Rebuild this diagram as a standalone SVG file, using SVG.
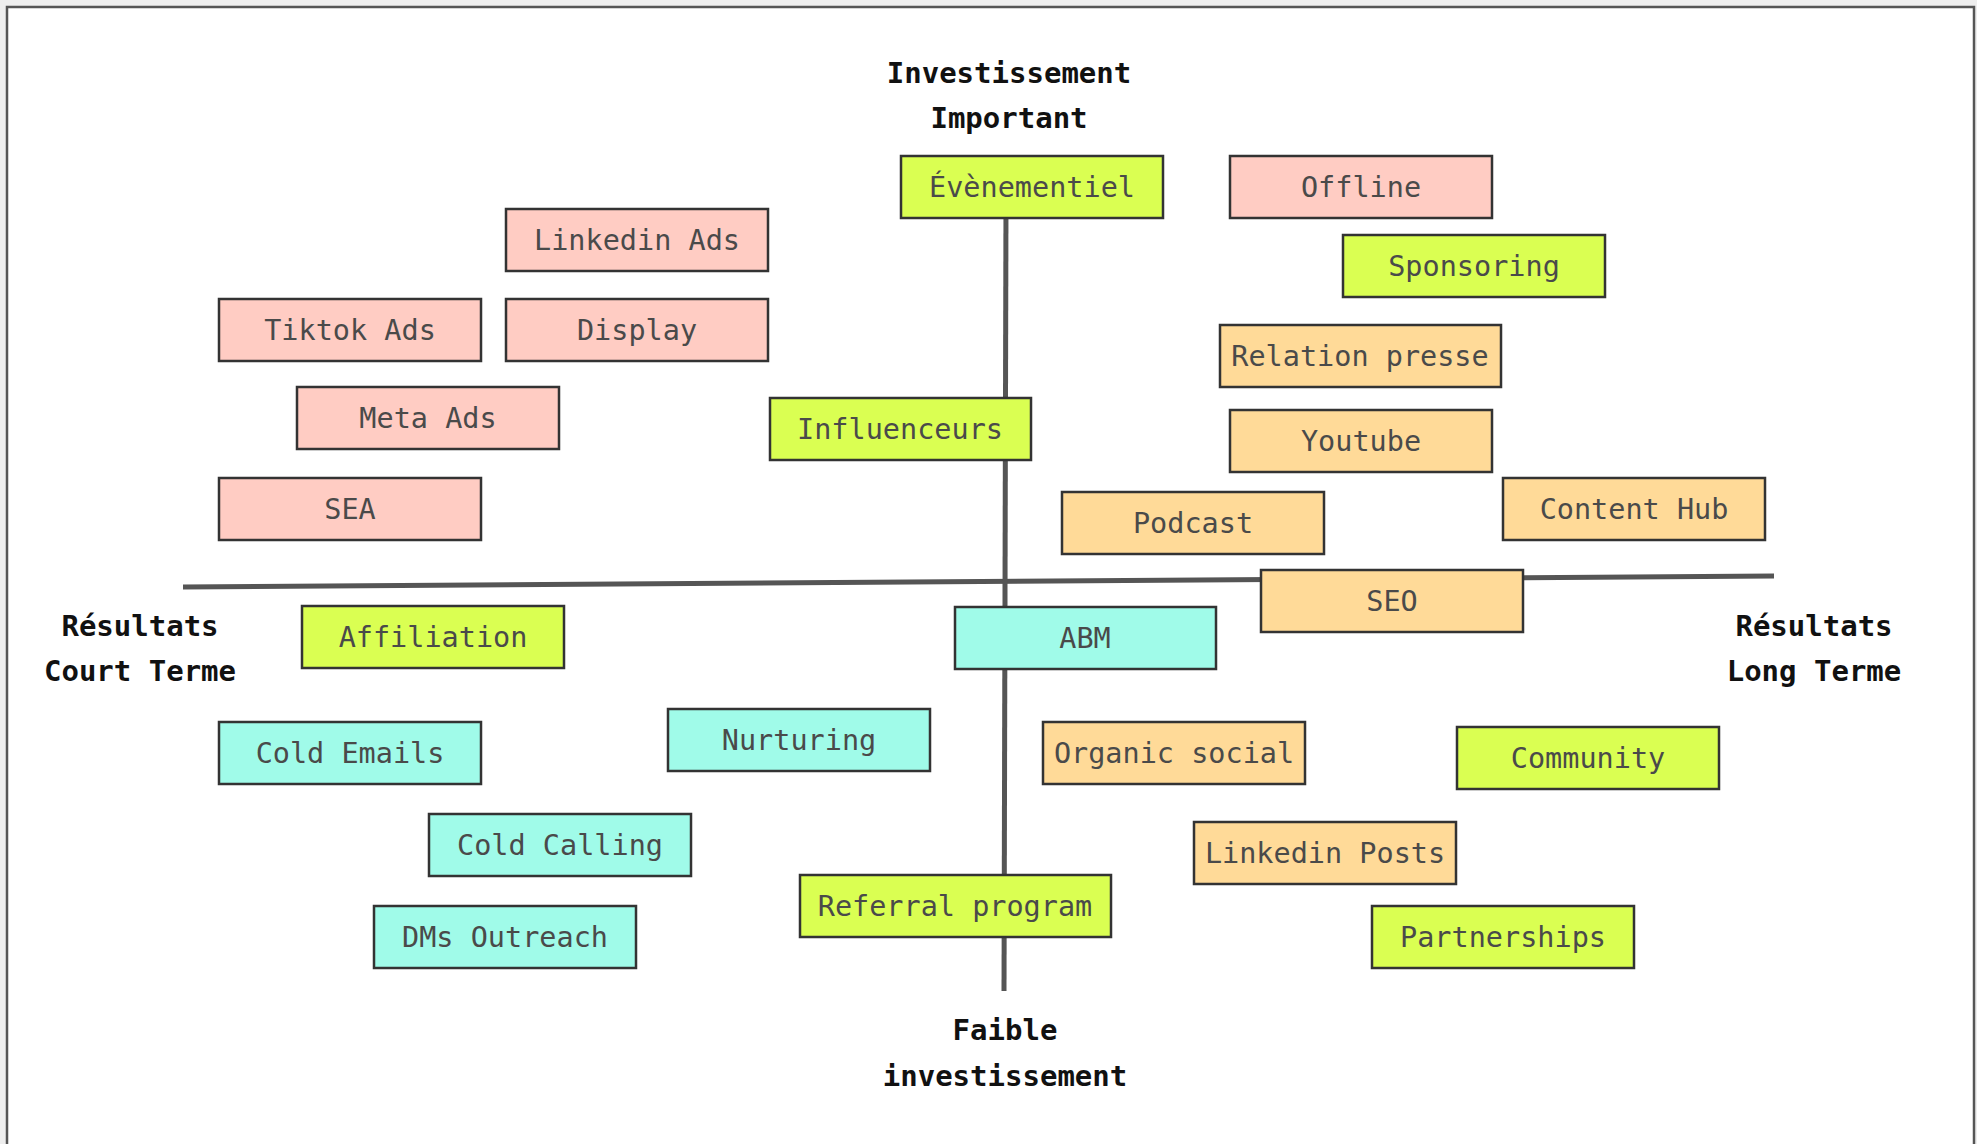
<svg xmlns="http://www.w3.org/2000/svg" width="1977" height="1144" viewBox="0 0 1977 1144">
<style>
.bx{stroke:#333;stroke-width:2.5}
.pink{fill:#FFCCC3}
.lime{fill:#DAFF52}
.cyan{fill:#A0FBE9}
.orng{fill:#FFDA98}
.t{font-family:"DejaVu Sans Mono","Liberation Mono",monospace;font-size:28.5px;fill:#4a4a4a;text-anchor:middle}
.lb{font-family:"DejaVu Sans Mono","Liberation Mono",monospace;font-size:29px;font-weight:bold;fill:#111;text-anchor:middle}
.ax{stroke:#555;stroke-width:5;fill:none}
</style>
<rect x="0" y="0" width="1977" height="1144" fill="#eeeeee"/>
<rect x="7" y="7" width="1967" height="1140" fill="#ffffff" stroke="#555" stroke-width="2.5"/>
<g id="connectors">
<line class="ax" x1="183" y1="587" x2="1774" y2="576"/>
<line class="ax" x1="1006" y1="200" x2="1004" y2="991"/>
</g>
<g id="labels">
<text class="lb" x="1009" y="83">Investissement</text>
<text class="lb" x="1009" y="128">Important</text>
<text class="lb" x="140" y="636">Résultats</text>
<text class="lb" x="140" y="681">Court Terme</text>
<text class="lb" x="1814" y="636">Résultats</text>
<text class="lb" x="1814" y="681">Long Terme</text>
<text class="lb" x="1005" y="1040">Faible</text>
<text class="lb" x="1005" y="1086">investissement</text>
</g>
<g id="evenementiel"><rect class="bx lime" x="901" y="156" width="262" height="62"/><text class="t" x="1032" y="197">Évènementiel</text></g>
<g id="offline"><rect class="bx pink" x="1230" y="156" width="262" height="62"/><text class="t" x="1361" y="197">Offline</text></g>
<g id="linkedin-ads"><rect class="bx pink" x="506" y="209" width="262" height="62"/><text class="t" x="637" y="250">Linkedin Ads</text></g>
<g id="sponsoring"><rect class="bx lime" x="1343" y="235" width="262" height="62"/><text class="t" x="1474" y="276">Sponsoring</text></g>
<g id="tiktok-ads"><rect class="bx pink" x="219" y="299" width="262" height="62"/><text class="t" x="350" y="340">Tiktok Ads</text></g>
<g id="display"><rect class="bx pink" x="506" y="299" width="262" height="62"/><text class="t" x="637" y="340">Display</text></g>
<g id="relation-presse"><rect class="bx orng" x="1220" y="325" width="281" height="62"/><text class="t" x="1360" y="366">Relation presse</text></g>
<g id="meta-ads"><rect class="bx pink" x="297" y="387" width="262" height="62"/><text class="t" x="428" y="428">Meta Ads</text></g>
<g id="influenceurs"><rect class="bx lime" x="770" y="398" width="261" height="62"/><text class="t" x="900" y="439">Influenceurs</text></g>
<g id="youtube"><rect class="bx orng" x="1230" y="410" width="262" height="62"/><text class="t" x="1361" y="451">Youtube</text></g>
<g id="sea"><rect class="bx pink" x="219" y="478" width="262" height="62"/><text class="t" x="350" y="519">SEA</text></g>
<g id="podcast"><rect class="bx orng" x="1062" y="492" width="262" height="62"/><text class="t" x="1193" y="533">Podcast</text></g>
<g id="content-hub"><rect class="bx orng" x="1503" y="478" width="262" height="62"/><text class="t" x="1634" y="519">Content Hub</text></g>
<g id="seo"><rect class="bx orng" x="1261" y="570" width="262" height="62"/><text class="t" x="1392" y="611">SEO</text></g>
<g id="affiliation"><rect class="bx lime" x="302" y="606" width="262" height="62"/><text class="t" x="433" y="647">Affiliation</text></g>
<g id="abm"><rect class="bx cyan" x="955" y="607" width="261" height="62"/><text class="t" x="1085" y="648">ABM</text></g>
<g id="cold-emails"><rect class="bx cyan" x="219" y="722" width="262" height="62"/><text class="t" x="350" y="763">Cold Emails</text></g>
<g id="nurturing"><rect class="bx cyan" x="668" y="709" width="262" height="62"/><text class="t" x="799" y="750">Nurturing</text></g>
<g id="organic-social"><rect class="bx orng" x="1043" y="722" width="262" height="62"/><text class="t" x="1174" y="763">Organic social</text></g>
<g id="community"><rect class="bx lime" x="1457" y="727" width="262" height="62"/><text class="t" x="1588" y="768">Community</text></g>
<g id="cold-calling"><rect class="bx cyan" x="429" y="814" width="262" height="62"/><text class="t" x="560" y="855">Cold Calling</text></g>
<g id="linkedin-posts"><rect class="bx orng" x="1194" y="822" width="262" height="62"/><text class="t" x="1325" y="863">Linkedin Posts</text></g>
<g id="referral-program"><rect class="bx lime" x="800" y="875" width="311" height="62"/><text class="t" x="955" y="916">Referral program</text></g>
<g id="dms-outreach"><rect class="bx cyan" x="374" y="906" width="262" height="62"/><text class="t" x="505" y="947">DMs Outreach</text></g>
<g id="partnerships"><rect class="bx lime" x="1372" y="906" width="262" height="62"/><text class="t" x="1503" y="947">Partnerships</text></g>
</svg>
